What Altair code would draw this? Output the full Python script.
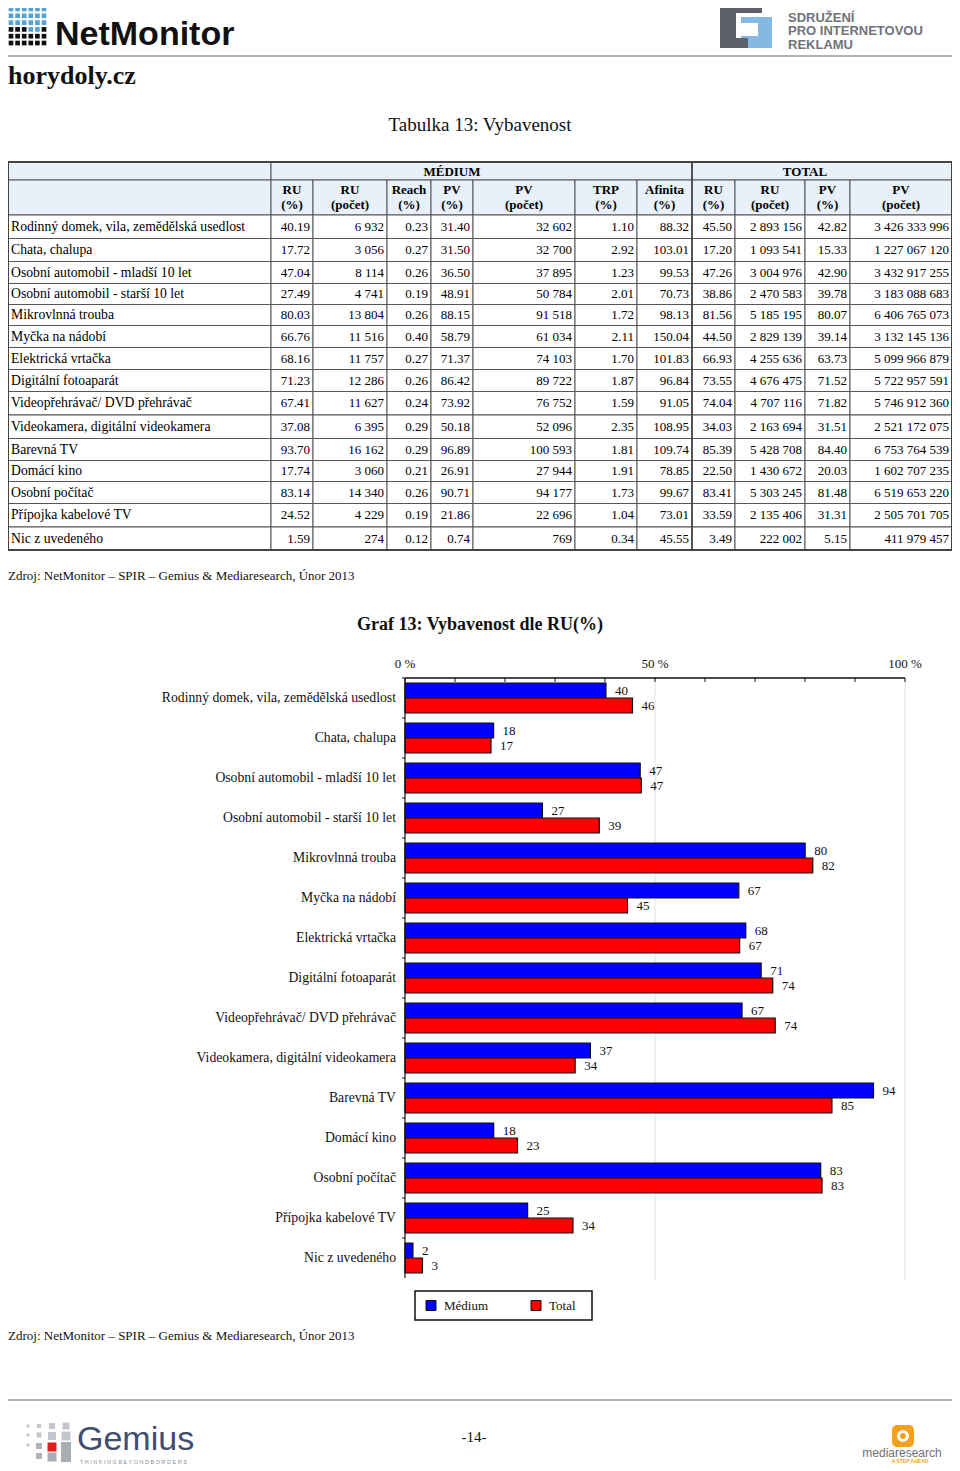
import altair as alt
import pandas as pd

# ---------------- data ----------------
categories = [
    "Rodinný domek, vila, zemědělská usedlost",
    "Chata, chalupa",
    "Osobní automobil - mladší 10 let",
    "Osobní automobil - starší 10 let",
    "Mikrovlnná trouba",
    "Myčka na nádobí",
    "Elektrická vrtačka",
    "Digitální fotoaparát",
    "Videopřehrávač/ DVD přehrávač",
    "Videokamera, digitální videokamera",
    "Barevná TV",
    "Domácí kino",
    "Osobní počítač",
    "Přípojka kabelové TV",
    "Nic z uvedeného",
]
med_ru_pct = [40.19, 17.72, 47.04, 27.49, 80.03, 66.76, 68.16, 71.23, 67.41, 37.08, 93.70, 17.74, 83.14, 24.52, 1.59]
med_ru_cnt = [6932, 3056, 8114, 4741, 13804, 11516, 11757, 12286, 11627, 6395, 16162, 3060, 14340, 4229, 274]
med_reach = [0.23, 0.27, 0.26, 0.19, 0.26, 0.40, 0.27, 0.26, 0.24, 0.29, 0.29, 0.21, 0.26, 0.19, 0.12]
med_pv_pct = [31.40, 31.50, 36.50, 48.91, 88.15, 58.79, 71.37, 86.42, 73.92, 50.18, 96.89, 26.91, 90.71, 21.86, 0.74]
med_pv_cnt = [32602, 32700, 37895, 50784, 91518, 61034, 74103, 89722, 76752, 52096, 100593, 27944, 94177, 22696, 769]
med_trp = [1.10, 2.92, 1.23, 2.01, 1.72, 2.11, 1.70, 1.87, 1.59, 2.35, 1.81, 1.91, 1.73, 1.04, 0.34]
med_afinita = [88.32, 103.01, 99.53, 70.73, 98.13, 150.04, 101.83, 96.84, 91.05, 108.95, 109.74, 78.85, 99.67, 73.01, 45.55]
tot_ru_pct = [45.50, 17.20, 47.26, 38.86, 81.56, 44.50, 66.93, 73.55, 74.04, 34.03, 85.39, 22.50, 83.41, 33.59, 3.49]
tot_ru_cnt = [2893156, 1093541, 3004976, 2470583, 5185195, 2829139, 4255636, 4676475, 4707116, 2163694, 5428708, 1430672, 5303245, 2135406, 222002]
tot_pv_pct = [42.82, 15.33, 42.90, 39.78, 80.07, 39.14, 63.73, 71.52, 71.82, 31.51, 84.40, 20.03, 81.48, 31.31, 5.15]
tot_pv_cnt = [3426333996, 1227067120, 3432917255, 3183088683, 6406765073, 3132145136, 5099966879,
              5722957591, 5746912360, 2521172075, 6753764539, 1602707235, 6519653220, 2505701705, 411979457]

header_medium = [("RU", "(%)"), ("RU", "(počet)"), ("Reach", "(%)"), ("PV", "(%)"),
                 ("PV", "(počet)"), ("TRP", "(%)"), ("Afinita", "(%)")]
header_total = [("RU", "(%)"), ("RU", "(počet)"), ("PV", "(%)"), ("PV", "(počet)")]
series_names = ["Médium", "Total"]
axis_ticks = [0, 10, 20, 30, 40, 50, 60, 70, 80, 90, 100]
axis_labels = [0, 50, 100]
grid_values = [50, 100]

# ---------------- styles / layout ----------------
SERIF = "Liberation Serif"
SANS = "Liberation Sans"
HEAD_FILL = "#e8f0fa"
BORDER = "#555555"
BLUE = "#0000ff"
RED = "#ff0000"
LABEL_SIZE = 13.7

col_edges = [0, 263, 305, 379, 423, 465, 567, 629, 684, 727, 797, 842, 944]
row_edges = [154, 172, 207, 230.5, 253.5, 275.5, 296.5, 317.5, 339.5, 361.5, 383.5,
             407, 430.5, 452.5, 473.5, 495.5, 519, 542]
TX = alt.Scale(type="linear", domain=list(range(len(col_edges))), range=col_edges, nice=False, zero=False)
TY = alt.Scale(type="linear", domain=list(range(len(row_edges))), range=row_edges, nice=False, zero=False)

X_BAR = alt.Scale(domain=[0, 100], range=[397, 897], nice=False)
Y_BAR = alt.Scale(type="band", domain=categories, range=[670, 1270], paddingInner=0.25, paddingOuter=0.125)
Y_TICK = alt.Scale(type="band", domain=categories, range=[670, 1270], paddingInner=0, paddingOuter=0)
COLOR = alt.Scale(domain=series_names, range=[BLUE, RED])


def fmt_int(v):
    return f"{v:,}".replace(",", " ")


def fmt_dec(v):
    return f"{v:.2f}"


layers = []

# ---------------- header ----------------
logo_rows = ["bbbbbb", "bbbbbb", "bbbbbb", "kkkbbk", "kkkkkk", "kkkkkk"]
logo_df = pd.DataFrame([
    {"c": c, "r": r, "k": ("#5aa2d2" if ch == "b" else "#111111")}
    for r, row in enumerate(logo_rows) for c, ch in enumerate(row)
])
layers.append(
    alt.Chart(logo_df).mark_square(size=22, opacity=1).encode(
        x=alt.X("c:Q", scale=alt.Scale(domain=[0, 5], range=[3, 36], nice=False, zero=False), axis=None),
        y=alt.Y("r:Q", scale=alt.Scale(domain=[0, 5], range=[1, 35], nice=False, zero=False), axis=None),
        color=alt.Color("k:N", scale=None),
    )
)
layers.append(
    alt.Chart(pd.DataFrame({"t": ["NetMonitor"]})).mark_text(
        font=SANS, fontSize=34, fontWeight="bold", align="left", baseline="alphabetic", color="#111111"
    ).encode(x=alt.value(47), y=alt.value(37), text="t:N")
)
layers.append(
    alt.Chart(pd.DataFrame({"t": ["horydoly.cz"]})).mark_text(
        font=SERIF, fontSize=26, fontWeight="bold", align="left", baseline="alphabetic", color="#111111"
    ).encode(x=alt.value(0), y=alt.value(76), text="t:N")
)
layers.append(
    alt.Chart(pd.DataFrame({"t": [0]})).mark_rule(color="#9a9a9a", strokeWidth=1.5).encode(
        x=alt.value(0), x2=alt.value(944), y=alt.value(48)
    )
)
# SPIR logo
spir_df = pd.DataFrame({
    "x": [733, 733, 712, 712, 712],
    "x2": [764, 750, 754, 728, 740],
    "y": [9, 15, -6, -6, 30],
    "y2": [40, 28, 5, 40, 40],
    "k": ["#86b8e4", "#ffffff", "#5d6069", "#5d6069", "#5d6069"],
})
layers.append(
    alt.Chart(spir_df).mark_rect().encode(
        x=alt.X("x:Q", scale=None), x2="x2:Q", y=alt.Y("y:Q", scale=None), y2="y2:Q",
        color=alt.Color("k:N", scale=None),
    )
)
layers.append(
    alt.Chart(pd.DataFrame({"t": ["SDRUŽENÍ", "PRO INTERNETOVOU", "REKLAMU"], "i": [0, 1, 2]})).mark_text(
        font=SANS, fontSize=13, fontWeight="bold", align="left", baseline="middle", color="#70737b"
    ).encode(
        x=alt.value(780),
        y=alt.Y("i:Q", scale=alt.Scale(domain=[0, 2], range=[9.5, 36.5], nice=False, zero=False), axis=None),
        text="t:N",
    )
)

# ---------------- table ----------------
layers.append(
    alt.Chart(pd.DataFrame({"t": ["Tabulka 13: Vybavenost"]})).mark_text(
        font=SERIF, fontSize=19, align="center", baseline="middle", color="#111111"
    ).encode(x=alt.value(472), y=alt.value(117), text="t:N")
)

head_cells = [(0, 1, 0, 1), (1, 8, 0, 1), (8, 12, 0, 1), (0, 1, 1, 2)] + [(c, c + 1, 1, 2) for c in range(1, 12)]
body_cells = [(c, c + 1, r, r + 1) for r in range(2, 17) for c in range(12)]
head_df = pd.DataFrame(head_cells, columns=["c0", "c1", "r0", "r1"])
body_df = pd.DataFrame(body_cells, columns=["c0", "c1", "r0", "r1"])
for df, fill in [(head_df, HEAD_FILL), (body_df, "#ffffff")]:
    layers.append(
        alt.Chart(df).mark_rect(fill=fill, stroke=BORDER, strokeWidth=1).encode(
            x=alt.X("c0:Q", scale=TX, axis=None), x2="c1:Q",
            y=alt.Y("r0:Q", scale=TY, axis=None), y2="r1:Q",
        )
    )
layers.append(
    alt.Chart(pd.DataFrame({"c0": [0], "c1": [12], "r0": [0], "r1": [17]})).mark_rect(
        fill=None, stroke="#444444", strokeWidth=2
    ).encode(
        x=alt.X("c0:Q", scale=TX, axis=None), x2="c1:Q",
        y=alt.Y("r0:Q", scale=TY, axis=None), y2="r1:Q",
    )
)
layers.append(
    alt.Chart(pd.DataFrame({"c0": [8], "r0": [0], "r1": [17]})).mark_rule(
        stroke="#444444", strokeWidth=1.6
    ).encode(
        x=alt.X("c0:Q", scale=TX, axis=None),
        y=alt.Y("r0:Q", scale=TY, axis=None), y2="r1:Q",
    )
)

# header texts
grp_df = pd.DataFrame({"c": [4.5, 10.0], "r": [0.5, 0.5], "t": ["MÉDIUM", "TOTAL"]})
layers.append(
    alt.Chart(grp_df).mark_text(font=SERIF, fontSize=13, fontWeight="bold", align="center", baseline="middle", dy=1).encode(
        x=alt.X("c:Q", scale=TX, axis=None), y=alt.Y("r:Q", scale=TY, axis=None), text="t:N"
    )
)
hdr = header_medium + header_total
hdr_df = pd.DataFrame({"c": [i + 1.5 for i in range(len(hdr))], "r": [1.5] * len(hdr),
                       "l1": [h[0] for h in hdr], "l2": [h[1] for h in hdr]})
for field, dy in [("l1", -8), ("l2", 7)]:
    layers.append(
        alt.Chart(hdr_df).mark_text(font=SERIF, fontSize=13, fontWeight="bold", align="center", baseline="middle", dy=dy).encode(
            x=alt.X("c:Q", scale=TX, axis=None), y=alt.Y("r:Q", scale=TY, axis=None), text=f"{field}:N"
        )
    )

# body texts
lab_df = pd.DataFrame({"c": [0] * len(categories), "r": [i + 2.5 for i in range(len(categories))], "t": categories})
layers.append(
    alt.Chart(lab_df).mark_text(font=SERIF, fontSize=LABEL_SIZE, align="left", baseline="middle", dx=3).encode(
        x=alt.X("c:Q", scale=TX, axis=None), y=alt.Y("r:Q", scale=TY, axis=None), text="t:N"
    )
)
columns = [
    (med_ru_pct, fmt_dec), (med_ru_cnt, fmt_int), (med_reach, fmt_dec), (med_pv_pct, fmt_dec),
    (med_pv_cnt, fmt_int), (med_trp, fmt_dec), (med_afinita, fmt_dec),
    (tot_ru_pct, fmt_dec), (tot_ru_cnt, fmt_int), (tot_pv_pct, fmt_dec), (tot_pv_cnt, fmt_int),
]
num_rows = []
for ci, (vals, f) in enumerate(columns):
    for ri, v in enumerate(vals):
        num_rows.append({"c": ci + 2, "r": ri + 2.5, "t": f(v)})
layers.append(
    alt.Chart(pd.DataFrame(num_rows)).mark_text(font=SERIF, fontSize=13, align="right", baseline="middle", dx=-3).encode(
        x=alt.X("c:Q", scale=TX, axis=None), y=alt.Y("r:Q", scale=TY, axis=None), text="t:N"
    )
)

SOURCE = "Zdroj: NetMonitor – SPIR – Gemius & Mediaresearch, Únor 2013"
for yy in [568, 1328]:
    layers.append(
        alt.Chart(pd.DataFrame({"t": [SOURCE]})).mark_text(
            font=SERIF, fontSize=13, align="left", baseline="middle", color="#111111"
        ).encode(x=alt.value(0), y=alt.value(yy), text="t:N")
    )

# ---------------- bar chart ----------------
layers.append(
    alt.Chart(pd.DataFrame({"t": ["Graf 13: Vybavenost dle RU(%)"]})).mark_text(
        font=SERIF, fontSize=18, fontWeight="bold", align="center", baseline="middle", color="#111111"
    ).encode(x=alt.value(472), y=alt.value(617), text="t:N")
)
layers.append(
    alt.Chart(pd.DataFrame({"g": grid_values})).mark_rule(color="#e2e2e2", strokeWidth=1).encode(
        x=alt.X("g:Q", scale=X_BAR, axis=None), y=alt.value(670), y2=alt.value(1272)
    )
)
bar_df = pd.DataFrame(
    [{"cat": c, "series": "Médium", "value": v} for c, v in zip(categories, med_ru_pct)]
    + [{"cat": c, "series": "Total", "value": v} for c, v in zip(categories, tot_ru_pct)]
)
bar_enc = dict(
    x=alt.X("value:Q", scale=X_BAR, axis=None),
    y=alt.Y("cat:N", scale=Y_BAR, axis=None, sort=categories),
    yOffset=alt.YOffset("series:N", scale=alt.Scale(domain=series_names)),
)
layers.append(
    alt.Chart(bar_df).mark_bar(stroke="#111111", strokeWidth=1.2).encode(
        color=alt.Color("series:N", scale=COLOR, legend=None), **bar_enc
    )
)
layers.append(
    alt.Chart(bar_df).mark_text(font=SERIF, fontSize=13, align="left", baseline="middle", dx=9, color="#111111").encode(
        text=alt.Text("value:Q", format=".0f"), **bar_enc
    )
)
layers.append(
    alt.Chart(pd.DataFrame({"cat": categories})).mark_text(
        font=SERIF, fontSize=LABEL_SIZE, align="right", baseline="middle", color="#111111"
    ).encode(x=alt.value(388), y=alt.Y("cat:N", scale=Y_BAR, axis=None, sort=categories), text="cat:N")
)
# axes
layers.append(
    alt.Chart(pd.DataFrame({"a": [0], "b": [100]})).mark_rule(color="#111111", strokeWidth=1.5).encode(
        x=alt.X("a:Q", scale=X_BAR, axis=None), x2="b:Q", y=alt.value(670)
    )
)
layers.append(
    alt.Chart(pd.DataFrame({"a": [0]})).mark_rule(color="#111111", strokeWidth=1.2).encode(
        x=alt.X("a:Q", scale=X_BAR, axis=None), y=alt.value(670), y2=alt.value(1270)
    )
)
layers.append(
    alt.Chart(pd.DataFrame({"t": axis_ticks})).mark_rule(color="#111111", strokeWidth=1).encode(
        x=alt.X("t:Q", scale=X_BAR, axis=None), y=alt.value(670), y2=alt.value(674)
    )
)
layers.append(
    alt.Chart(pd.DataFrame({"t": axis_labels})).transform_calculate(lab="datum.t + ' %'").mark_text(
        font=SERIF, fontSize=13, align="center", baseline="middle", color="#111111"
    ).encode(x=alt.X("t:Q", scale=X_BAR, axis=None), y=alt.value(656), text="lab:N")
)
layers.append(
    alt.Chart(pd.DataFrame({"cat": categories})).mark_rule(color="#111111", strokeWidth=1).encode(
        y=alt.Y("cat:N", scale=Y_TICK, axis=None, sort=categories, bandPosition=0),
        x=alt.value(394), x2=alt.value(397),
    )
)
# legend
layers.append(
    alt.Chart(pd.DataFrame({"t": [0]})).mark_rect(fill="#ffffff", stroke="#111111", strokeWidth=1.5).encode(
        x=alt.value(407), x2=alt.value(584), y=alt.value(1283), y2=alt.value(1312)
    )
)
LEG_X = alt.Scale(type="point", domain=series_names, range=[423, 528], padding=0)
leg_df = pd.DataFrame({"series": series_names})
layers.append(
    alt.Chart(leg_df).mark_square(size=100, opacity=1, stroke="#111111", strokeWidth=1).encode(
        x=alt.X("series:N", scale=LEG_X, axis=None), y=alt.value(1297.5),
        color=alt.Color("series:N", scale=COLOR, legend=None),
    )
)
layers.append(
    alt.Chart(leg_df).mark_text(font=SERIF, fontSize=13, align="left", baseline="middle", dx=13, color="#111111").encode(
        x=alt.X("series:N", scale=LEG_X, axis=None), y=alt.value(1297.5), text="series:N"
    )
)

# ---------------- footer ----------------
layers.append(
    alt.Chart(pd.DataFrame({"t": [0]})).mark_rule(color="#9a9a9a", strokeWidth=1.5).encode(
        x=alt.value(0), x2=alt.value(944), y=alt.value(1392)
    )
)
gem_sq = pd.DataFrame({
    "x": [20, 31, 44, 58, 20, 31, 44, 58, 20, 31, 44, 58, 31, 44, 58],
    "y": [1418, 1418, 1418, 1418, 1427, 1427, 1428, 1428, 1437, 1438, 1439, 1439, 1448, 1449, 1449],
    "s": [9, 16, 36, 49, 9, 25, 64, 81, 9, 36, 81, 100, 36, 81, 100],
    "k": ["#c3c6cc"] * 8 + ["#c3c6cc", "#b0b4bb", "#e0201b", "#a9adb4", "#b0b4bb", "#a9adb4", "#a9adb4"],
})
layers.append(
    alt.Chart(gem_sq).mark_square(opacity=1).encode(
        x=alt.X("x:Q", scale=None), y=alt.Y("y:Q", scale=None),
        size=alt.Size("s:Q", scale=None), color=alt.Color("k:N", scale=None),
    )
)
layers.append(
    alt.Chart(pd.DataFrame({"t": ["Gemius"]})).mark_text(
        font=SANS, fontSize=34, align="left", baseline="alphabetic", color="#3f4e70"
    ).encode(x=alt.value(69), y=alt.value(1442), text="t:N")
)
layers.append(
    alt.Chart(pd.DataFrame({"t": ["T H I N K I N G   B E Y O N D   B O R D E R S"]})).mark_text(
        font=SANS, fontSize=5.5, align="left", baseline="middle", color="#8a8f99"
    ).encode(x=alt.value(72), y=alt.value(1454), text="t:N")
)
layers.append(
    alt.Chart(pd.DataFrame({"t": ["-14-"]})).mark_text(
        font=SERIF, fontSize=15, align="center", baseline="middle", color="#111111"
    ).encode(x=alt.value(466), y=alt.value(1429), text="t:N")
)
layers.append(
    alt.Chart(pd.DataFrame({"t": [0]})).mark_rect(cornerRadius=5, color="#f4a11d").encode(
        x=alt.value(884), x2=alt.value(906), y=alt.value(1417), y2=alt.value(1439)
    )
)
layers.append(
    alt.Chart(pd.DataFrame({"t": [0]})).mark_point(shape="circle", filled=False, stroke="#ffffff", strokeWidth=3, size=80, opacity=1).encode(
        x=alt.value(895), y=alt.value(1428)
    )
)
layers.append(
    alt.Chart(pd.DataFrame({"t": ["mediaresearch"]})).mark_text(
        font=SANS, fontSize=12, align="center", baseline="middle", color="#6f7076"
    ).encode(x=alt.value(894), y=alt.value(1445), text="t:N")
)
layers.append(
    alt.Chart(pd.DataFrame({"t": ["A STEP AHEAD"]})).mark_text(
        font=SANS, fontSize=5, fontWeight="bold", align="center", baseline="middle", color="#f4a11d"
    ).encode(x=alt.value(902), y=alt.value(1453), text="t:N")
)

chart = alt.layer(*layers).resolve_scale(
    x="independent", y="independent", color="independent", size="independent"
).properties(
    width=944, height=1456, padding=0,
    autosize=alt.AutoSizeParams(type="none"),
).configure_view(stroke=None)

chart.save("out.html", embed_options={"renderer": "svg", "actions": False})
